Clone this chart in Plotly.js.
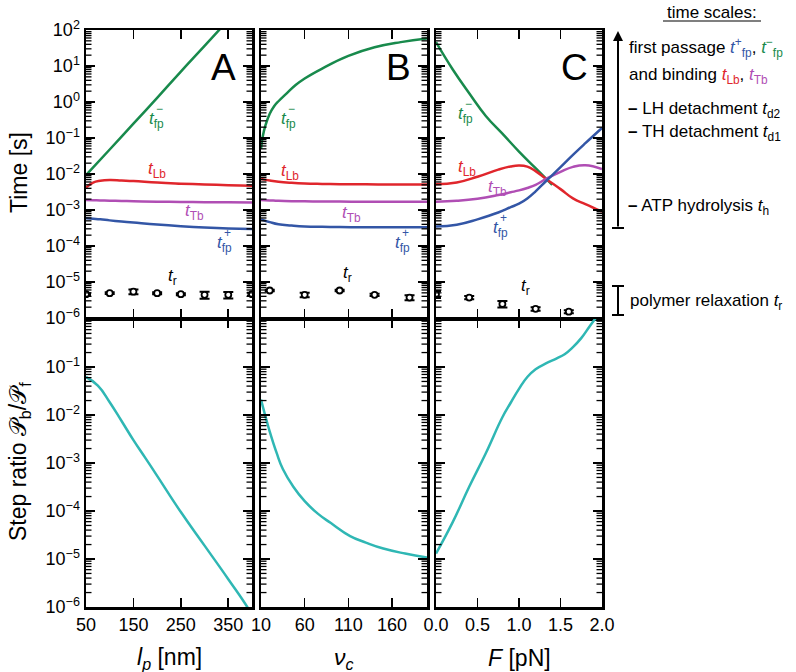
<!DOCTYPE html>
<html><head><meta charset="utf-8">
<script src="https://cdn.plot.ly/plotly-3.0.1.min.js"></script>
<style>html,body{margin:0;padding:0;background:#fff}</style>
</head><body><div id="chart" style="width:796px;height:672px"></div>
<script>
// ---------- Panel A : persistence length l_p [nm] ----------
const lpGreen   = [50, 100, 150, 200, 250, 300, 350];
const tfpMinusA = [9.3e-3, 0.048, 0.25, 1.3, 7, 36, 190];
const lpCurve   = [50, 65, 80, 100, 125, 150, 200, 250, 300, 350, 400];
const tLbA      = [4.2e-3, 5.8e-3, 6.5e-3, 6.8e-3, 6.6e-3, 6.4e-3, 5.8e-3, 5.4e-3, 5.1e-3, 4.9e-3, 4.75e-3];
const tTbA      = [1.9e-3, 1.88e-3, 1.85e-3, 1.82e-3, 1.78e-3, 1.75e-3, 1.7e-3, 1.67e-3, 1.65e-3, 1.63e-3, 1.62e-3];
const tfpPlusA  = [5.9e-4, 5.7e-4, 5.5e-4, 5.15e-4, 4.8e-4, 4.5e-4, 3.95e-4, 3.55e-4, 3.25e-4, 3.05e-4, 2.95e-4];
const lpTr      = [50, 100, 150, 200, 250, 300, 350, 400];
const trA       = [4.6e-6, 4.9e-6, 5.4e-6, 4.9e-6, 4.6e-6, 4.4e-6, 4.4e-6, 4.6e-6];
const trErrA    = [0.25e-6, 0.25e-6, 0.8e-6, 0.3e-6, 0.3e-6, 1.0e-6, 0.9e-6, 0.4e-6];
const lpStep    = [50, 75, 100, 125, 150, 175, 200, 250, 300, 350, 390, 400];
const stepA     = [0.062, 0.041, 0.0185, 7.5e-3, 3.0e-3, 1.28e-3, 5.4e-4, 9.5e-5, 1.9e-5, 3.8e-6, 1.0e-6, 6.5e-7];

// ---------- Panel B : nu_c ----------
const nuGreen   = [10, 12, 15, 20, 25, 30, 40, 50, 60, 80, 110, 140, 170, 200];
const tfpMinusB = [0.05, 0.11, 0.22, 0.47, 0.76, 1.05, 1.8, 3.0, 4.5, 8.5, 19, 33, 46, 58];
const nuCurve   = [10, 20, 30, 45, 60, 80, 100, 130, 160, 200];
const tLbB      = [7.3e-3, 6.6e-3, 6.1e-3, 5.7e-3, 5.45e-3, 5.3e-3, 5.2e-3, 5.15e-3, 5.1e-3, 5.1e-3];
const tTbB      = [1.9e-3, 1.85e-3, 1.8e-3, 1.76e-3, 1.74e-3, 1.72e-3, 1.71e-3, 1.7e-3, 1.7e-3, 1.7e-3];
const tfpPlusB  = [5.5e-4, 4.6e-4, 4.0e-4, 3.7e-4, 3.5e-4, 3.4e-4, 3.35e-4, 3.3e-4, 3.3e-4, 3.3e-4];
const nuTr      = [20, 60, 100, 140, 180];
const trB       = [5.8e-6, 4.4e-6, 5.8e-6, 4.4e-6, 3.7e-6];
const trErrB    = [0.3e-6, 0.6e-6, 0.3e-6, 0.3e-6, 0.6e-6];
const nuStep    = [10, 15, 20, 28, 35, 47, 60, 75, 90, 112, 130, 150, 175, 200];
const stepB     = [0.021, 9.5e-3, 4.5e-3, 1.6e-3, 7.5e-4, 3.2e-4, 1.6e-4, 8.8e-5, 5.6e-5, 3.0e-5, 2.2e-5, 1.65e-5, 1.3e-5, 1.08e-5];

// ---------- Panel C : force F [pN] ----------
const fGreen    = [0, 0.2, 0.4, 0.6, 0.8, 1.0, 1.2, 1.4];
const tfpMinusC = [46, 8.1, 1.74, 0.41, 0.132, 0.042, 0.0145, 5.0e-3];
const fCurve    = [0, 0.25, 0.5, 0.75, 0.9, 1.0, 1.1, 1.2, 1.33, 1.5, 1.65, 1.8, 2.0];
const tLbC      = [5.2e-3, 5.8e-3, 8.4e-3, 1.32e-2, 1.62e-2, 1.72e-2, 1.6e-2, 1.2e-2, 7.2e-3, 3.8e-3, 2.1e-3, 1.45e-3, 9e-4];
const tTbC      = [1.7e-3, 1.8e-3, 2.05e-3, 2.6e-3, 3.1e-3, 3.5e-3, 4.1e-3, 5.0e-3, 7.4e-3, 0.0115, 0.0158, 0.0176, 0.0138];
const tfpPlusC  = [3.5e-4, 3.9e-4, 5.5e-4, 8.5e-4, 1.2e-3, 1.5e-3, 2.1e-3, 3.3e-3, 6.5e-3, 0.0155, 0.034, 0.072, 0.19];
const fTr       = [0, 0.4, 0.8, 1.2, 1.6];
const trC       = [4.6e-6, 3.7e-6, 2.45e-6, 1.8e-6, 1.5e-6];
const trErrC    = [1.0e-6, 0.4e-6, 0.5e-6, 0.2e-6, 0.15e-6];
const fStep     = [0, 0.2, 0.4, 0.6, 0.8, 0.9, 1.0, 1.1, 1.2, 1.33, 1.45, 1.55, 1.65, 1.75, 1.85, 1.95];
const stepC     = [1.3e-5, 5.8e-5, 3.2e-4, 1.6e-3, 9e-3, 0.018, 0.035, 0.062, 0.09, 0.12, 0.15, 0.185, 0.26, 0.4, 0.7, 1.2];

// ---------- tick labels ----------
const tickA = [50, 150, 250, 350];
const tickB = [10, 60, 110, 160];
const tickC = [0, 0.5, 1, 1.5, 2];
const tickCtext = ['0.0', '0.5', '1.0', '1.5', '2.0'];
const expUpper = [2, 1, 0, -1, -2, -3, -4, -5, -6];
const expLower = [-1, -2, -3, -4, -5, -6];

const GREEN = '#188a4c', RED = '#e0262c', PURPLE = '#b04eb4', BLUE = '#3356a6', CYAN = '#2fb7b4';
const FONT = 'Liberation Sans, Arial, sans-serif';
const W = 796, H = 672;
const PX = x => x / W, PY = y => 1 - y / H;

function sup(e){ return '10<sup>' + (e < 0 ? '\u2212' + (-e) : e) + '</sup>'; }

function line(x, y, color, xa, ya){
  return {x, y, type:'scatter', mode:'lines', line:{color, width:2.5, shape:'spline', smoothing:1.3},
          xaxis:xa, yaxis:ya, hoverinfo:'skip', showlegend:false};
}
function pts(x, y, err, xa, ya){
  return {x, y, type:'scatter', mode:'markers', xaxis:xa, yaxis:ya, showlegend:false,
          marker:{symbol:'circle', size:6, color:'white', line:{color:'black', width:1.8}},
          error_y:{type:'data', array:err, visible:true, color:'black', thickness:2, width:5}};
}

const data = [
  line(lpGreen, tfpMinusA, GREEN, 'x', 'y'),
  line(lpCurve, tLbA, RED, 'x', 'y'),
  line(lpCurve, tTbA, PURPLE, 'x', 'y'),
  line(lpCurve, tfpPlusA, BLUE, 'x', 'y'),
  pts(lpTr, trA, trErrA, 'x', 'y'),
  line(lpStep, stepA, CYAN, 'x2', 'y2'),

  line(nuGreen, tfpMinusB, GREEN, 'x3', 'y3'),
  line(nuCurve, tLbB, RED, 'x3', 'y3'),
  line(nuCurve, tTbB, PURPLE, 'x3', 'y3'),
  line(nuCurve, tfpPlusB, BLUE, 'x3', 'y3'),
  pts(nuTr, trB, trErrB, 'x3', 'y3'),
  line(nuStep, stepB, CYAN, 'x4', 'y4'),

  line(fGreen, tfpMinusC, GREEN, 'x5', 'y5'),
  line(fCurve, tLbC, RED, 'x5', 'y5'),
  line(fCurve, tTbC, PURPLE, 'x5', 'y5'),
  line(fCurve, tfpPlusC, BLUE, 'x5', 'y5'),
  pts(fTr, trC, trErrC, 'x5', 'y5'),
  line(fStep, stepC, CYAN, 'x6', 'y6')
];

const baseAx = {showline:true, mirror:'allticks', linecolor:'black', linewidth:2.5, ticks:'inside',
  ticklen:9, tickwidth:1.6, tickcolor:'black', showgrid:false, zeroline:false, fixedrange:true,
  tickfont:{family:FONT, size:18, color:'black'}};
function xAx(dom, range, vals, text, labels, anchor){
  return Object.assign({}, baseAx, {domain:[PX(dom[0]), PX(dom[1])], range, tickmode:'array', tickvals:vals,
    ticktext:text, showticklabels:labels, anchor});
}
function yAx(dom, range, exps, labels, anchor){
  return Object.assign({}, baseAx, {type:'log', domain:[PY(dom[1]), PY(dom[0])], range, tickmode:'array',
    tickvals:exps.map(e=>Math.pow(10,e)), ticktext:exps.map(sup), showticklabels:labels, anchor});
}
const colA=[86,252], colB=[261,427], colC=[436,602];
const up=[30,318], lo=[319,607];

const layout = {
  width:W, height:H, margin:{l:0,r:0,t:0,b:0}, paper_bgcolor:'white', plot_bgcolor:'white',
  font:{family:FONT, color:'black'}, showlegend:false,
  xaxis:  xAx(colA, [50,400], tickA, tickA.map(String), false, 'y'),
  xaxis2: xAx(colA, [50,400], tickA, tickA.map(String), true, 'y2'),
  xaxis3: xAx(colB, [10,200], tickB, tickB.map(String), false, 'y3'),
  xaxis4: xAx(colB, [10,200], tickB, tickB.map(String), true, 'y4'),
  xaxis5: xAx(colC, [0,2], tickC, tickCtext, false, 'y5'),
  xaxis6: xAx(colC, [0,2], tickC, tickCtext, true, 'y6'),
  yaxis:  yAx(up, [-6,2], expUpper, true, 'x'),
  yaxis2: yAx(lo, [-6,0], expLower, true, 'x2'),
  yaxis3: yAx(up, [-6,2], expUpper, false, 'x3'),
  yaxis4: yAx(lo, [-6,0], expLower, false, 'x4'),
  yaxis5: yAx(up, [-6,2], expUpper, false, 'x5'),
  yaxis6: yAx(lo, [-6,0], expLower, false, 'x6'),
  annotations: [], shapes: []
};

const A = layout.annotations, S = layout.shapes;

// minor log ticks (2..9 within each decade) on both sides of every panel
function minorTicks(col, rows, range){
  const pxPerDec = (rows[1] - rows[0]) / (range[1] - range[0]);
  for (let e = range[0]; e < range[1]; e++) {
    for (let k = 2; k <= 9; k++) {
      const yp = rows[0] + (range[1] - (e + Math.log10(k))) * pxPerDec;
      S.push({type:'line', layer:'above', xref:'paper', yref:'paper', x0:PX(col[0]), x1:PX(col[0] + 5.5), y0:PY(yp), y1:PY(yp), line:{color:'#000000', width:1.3}});
      S.push({type:'line', layer:'above', xref:'paper', yref:'paper', x0:PX(col[1] - 5.5), x1:PX(col[1]), y0:PY(yp), y1:PY(yp), line:{color:'#000000', width:1.3}});
    }
  }
}
[colA, colB, colC].forEach(c => { minorTicks(c, up, [-6, 2]); minorTicks(c, lo, [-6, 0]); });

function txt(x, y, text, size, color, opts){
  A.push(Object.assign({xref:'paper', yref:'paper', x:PX(x), y:PY(y), text, showarrow:false,
    xanchor:'left', yanchor:'middle', font:{family:FONT, size, color}}, opts||{}));
}
function lab(x, y, sub, color, supr){
  txt(x, y, '<i>t</i><sub>' + sub + '</sub>', 17, color);
  if (supr) txt(x + 7, y - 11, supr, 12, color);
}
// panel letters
txt(223, 68, 'A', 37, 'black', {xanchor:'center'});
txt(398, 68, 'B', 37, 'black', {xanchor:'center'});
txt(574, 68, 'C', 37, 'black', {xanchor:'center'});
// curve labels
lab(147, 120, 'fp', GREEN, '\u2212'); lab(146, 170, 'Lb', RED); lab(183, 212, 'Tb', PURPLE); lab(215, 244, 'fp', BLUE, '+'); lab(166, 277, 'r', 'black');
lab(279, 120, 'fp', GREEN, '\u2212'); lab(279, 172, 'Lb', RED); lab(340, 214, 'Tb', PURPLE); lab(393, 244, 'fp', BLUE, '+'); lab(341, 274, 'r', 'black');
lab(456, 115, 'fp', GREEN, '\u2212'); lab(456, 168, 'Lb', RED); lab(486, 188, 'Tb', PURPLE); lab(491, 229, 'fp', BLUE, '+'); lab(519, 287, 'r', 'black');

// axis titles
txt(19, 173, 'Time [s]', 23, 'black', {xanchor:'center', textangle:-90});
txt(19, 462, 'Step ratio \uD835\uDCAB<sub>b</sub>/\uD835\uDCAB<sub>f</sub>', 23, 'black', {xanchor:'center', textangle:-90});
txt(169, 658, '<i>l<sub>p</sub></i> [nm]', 23, 'black', {xanchor:'center'});
txt(344, 658, '<i>\u03BD<sub>c</sub></i>', 23, 'black', {xanchor:'center'});
txt(519, 658, '<i>F</i> [pN]', 23, 'black', {xanchor:'center'});

// right-side legend text
const sp = (c, s) => '<span style="color:' + c + '">' + s + '</span>';
txt(712, 12, 'time scales:', 17, 'black', {xanchor:'center'});
S.push({type:'line', xref:'paper', yref:'paper', x0:PX(663), x1:PX(761), y0:PY(21), y1:PY(21), line:{color:'black', width:1.2}});
txt(627, 48, 'first passage ' + sp(BLUE, '<i>t</i><sup>+</sup><sub>fp</sub>') + ', ' + sp(GREEN, '<i>t</i><sup>\u2212</sup><sub>fp</sub>'), 17, 'black');
txt(627, 76, 'and binding ' + sp(RED, '<i>t</i><sub>Lb</sub>') + ', ' + sp(PURPLE, '<i>t</i><sub>Tb</sub>'), 17, 'black');
txt(626, 110, '<b>\u2013</b> LH detachment <i>t</i><sub>d2</sub>', 17, 'black');
txt(626, 133, '<b>\u2013</b> TH detachment <i>t</i><sub>d1</sub>', 17, 'black');
txt(626, 207, '<b>\u2013</b> ATP hydrolysis <i>t</i><sub>h</sub>', 17, 'black');
txt(628, 302, 'polymer relaxation <i>t</i><sub>r</sub>', 17, 'black');
// arrow & bars
A.push({xref:'paper', yref:'paper', x:PX(618), y:PY(31), axref:'pixel', ayref:'pixel', ax:0, ay:197,
  text:'', showarrow:true, arrowhead:2, arrowsize:1, arrowwidth:2, arrowcolor:'black'});
S.push({type:'line', xref:'paper', yref:'paper', x0:PX(612), x1:PX(624), y0:PY(228), y1:PY(228), line:{color:'black', width:2}});
S.push({type:'line', xref:'paper', yref:'paper', x0:PX(618), x1:PX(618), y0:PY(286), y1:PY(315), line:{color:'black', width:2}});
S.push({type:'line', xref:'paper', yref:'paper', x0:PX(612), x1:PX(624), y0:PY(286), y1:PY(286), line:{color:'black', width:2}});
S.push({type:'line', xref:'paper', yref:'paper', x0:PX(612), x1:PX(624), y0:PY(315), y1:PY(315), line:{color:'black', width:2}});

Plotly.newPlot('chart', data, layout, {displayModeBar:false, staticPlot:true});
</script></body></html>
